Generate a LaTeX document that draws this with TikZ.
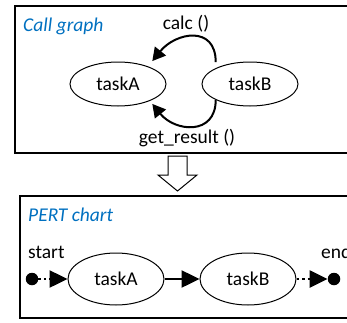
\documentclass[tikz,border=0pt]{standalone}
\usepackage{fontspec}
\setmainfont{Carlito}
\usepackage{xcolor}
\usetikzlibrary{arrows.meta,shapes.geometric}
\definecolor{titleblue}{HTML}{0070C0}

\begin{document}
\begin{tikzpicture}[x=1pt, y=1pt,
	every node/.style={font=\fontsize{19.5}{23}\selectfont},
	task/.style={draw, ellipse, line width=1pt, inner sep=0pt, minimum width=96pt},
	boxtitle/.style={anchor=base west, inner sep=0pt, text=titleblue, font=\fontsize{19.5}{23}\selectfont\itshape},
	call/.style={line width=2pt, -{Triangle[length=13pt, width=14pt]}},
	flow/.style={line width=2.5pt, -{Triangle[length=18pt, width=17pt]}},
	wait/.style={flow, dash pattern=on 2.5pt off 3pt},
	eventdot/.style={circle, fill=black, inner sep=0pt, minimum size=12.5pt}]
			\clip (0, 0) rectangle (347, 322);
			
			%Call graph
			\draw[line width=1.5pt] (15, 169) rectangle (360, 316);
			\node[boxtitle] at (23, 290) {Call graph};
			
			%Tasks
			\node[task, minimum height=44pt] (callA) at (118, 238) {taskA};
			\node[task, minimum height=44pt] (callB) at (250, 238) {taskB};
			
			%Calls
			\draw[call] ([yshift=6pt]callB.north west) to[out=90, in=51, looseness=1.5] ([yshift=7pt]callA.north east);
			\draw[call] (callB.south west) to[out=-90, in=-51, looseness=1.45] ([yshift=-4pt]callA.south east);
			\node[anchor=base] at (186, 292) {calc ()};
			\node[anchor=base] at (187, 179) {get\_result ()};
			
			%Block arrow
			\draw[line width=1pt, fill=white] (168, 166) -- (168, 147) -- (158, 147) -- (177.5, 131) -- (197, 147) -- (187, 147) -- (187, 166) -- cycle;
			
			%PERT chart
			\draw[line width=1.5pt] (20, 4) rectangle (360, 126);
			\node[boxtitle] at (28, 101) {PERT chart};
			
			%Events
			\node[eventdot] (begin) at (32, 43) {};
			\node[anchor=base west, inner sep=0pt] at (28, 64) {start};
			\node[eventdot] (finish) at (334, 43) {};
			\node[anchor=base west, inner sep=0pt] at (321, 64) {end};
			
			%Tasks
			\node[task, minimum height=52pt] (pertA) at (116, 43) {taskA};
			\node[task, minimum height=52pt] (pertB) at (248, 43) {taskB};
			
			%Lines
			\draw[wait] (begin) -- (pertA);
			\draw[flow] (pertA) -- (pertB);
			\draw[wait] (pertB) -- (finish);
\end{tikzpicture}
\end{document}
